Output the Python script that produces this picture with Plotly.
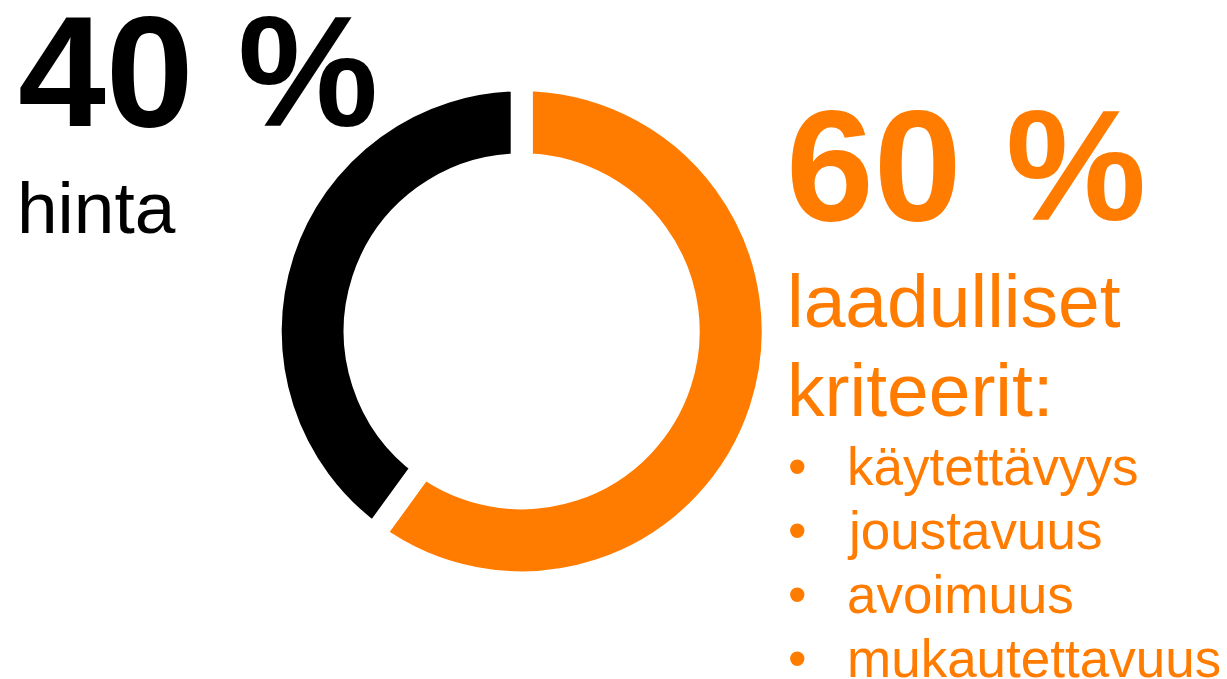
import plotly.graph_objects as go

# window size and the page's default 8px body margin
W, H = 1227, 679
OFF = 8
FW, FH = W - OFF, H - OFF

labels = ["laadulliset kriteerit", "hinta"]
values = [60, 40]
colors = ["#FF7C00", "#000000"]

big_labels = ["60 %", "40 %"]
bullet_items = ["käytettävyys", "joustavuus", "avoimuus", "mukautettavuus"]

ORANGE = "#FF7C00"
FONT = "Liberation Sans, Arial, sans-serif"


def pxx(x):
    return (x - OFF) / FW


def pxy(y):
    return 1 - (y - OFF) / FH


# donut geometry (window pixels)
cx, cy = 521.7, 331.3
gap = 22
R = 240 + gap / 2
r_in = 178 - gap / 2

fig = go.Figure(go.Pie(
    labels=labels, values=values, sort=False, direction="clockwise", rotation=0,
    hole=r_in / R,
    marker=dict(colors=colors, line=dict(color="white", width=gap)),
    textinfo="none", hoverinfo="skip", showlegend=False,
    domain=dict(x=[pxx(cx - R), pxx(cx + R)],
                y=[pxy(cy + R), pxy(cy - R)]),
))


def ann(text, x_origin, baseline, size, color, bold=False):
    top = baseline - 2 - 0.905 * size
    fig.add_annotation(
        text=text, xref="paper", yref="paper",
        x=pxx(x_origin - 2), y=pxy(top),
        xanchor="left", yanchor="top", align="left", showarrow=False,
        font=dict(family=FONT, size=size, color=color,
                  weight="bold" if bold else "normal"),
    )


ann(big_labels[1], 18, 126, 158, "#000000", bold=True)
ann("hinta", 17, 233, 73, "#000000")
ann(big_labels[0], 786, 220, 158, ORANGE, bold=True)
ann("laadulliset", 786.5, 326.7, 75, ORANGE)
ann("kriteerit:", 786.5, 416, 75, ORANGE)

line_step = 64
for i, item in enumerate(bullet_items):
    base = 485 + i * line_step
    ann("•", 788, base, 53, ORANGE)
    ann(item, 846.5, base, 53, ORANGE)

fig.update_layout(
    width=FW, height=FH, margin=dict(l=0, r=0, t=0, b=0),
    paper_bgcolor="white", plot_bgcolor="white",
)

fig.write_html("out.html")
